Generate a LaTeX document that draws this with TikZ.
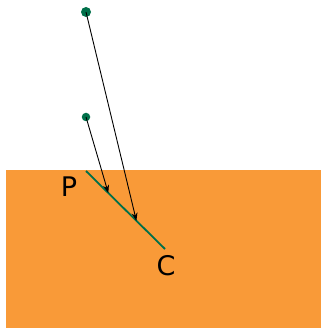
\documentclass[tikz,border=0pt]{standalone}
\usepackage{fontspec}
\setmainfont{DejaVu Sans}
\usetikzlibrary{arrows.meta,calc}
\definecolor{bgorange}{HTML}{F99A38}
\definecolor{dkgreen}{HTML}{00704A}
\tikzset{
  ray/.style={black, line width=0.9pt, -{Stealth[length=8pt,width=6pt]}},
  dot/.style={circle, fill=dkgreen, inner sep=0pt},
  lbl/.style={font=\fontsize{27}{30}\selectfont, inner sep=0pt}
}
\begin{document}
\begin{tikzpicture}[x=1pt,y=-1pt]
\useasboundingbox (0,0) rectangle (321,328);
\fill[bgorange] (6,170) rectangle (321,328);
\coordinate (P) at (86,171);
\coordinate (C) at (165,249);
\draw[dkgreen, line width=1.8pt] (P) -- (C);
\node[dot, minimum size=10pt] (s1) at (86,12) {};
\node[dot, minimum size=8.5pt] (s2) at (86,117) {};
\coordinate (h1) at ($(P)!0.638!(C)$);
\coordinate (h2) at ($(P)!0.282!(C)$);
\draw[ray] (s1.center) -- (h1);
\draw[ray] (s2.center) -- (h2);
\node[lbl] (lp) at (69,187) {P};
\node[lbl] (lc) at (166,266) {C};
\end{tikzpicture}
\end{document}
